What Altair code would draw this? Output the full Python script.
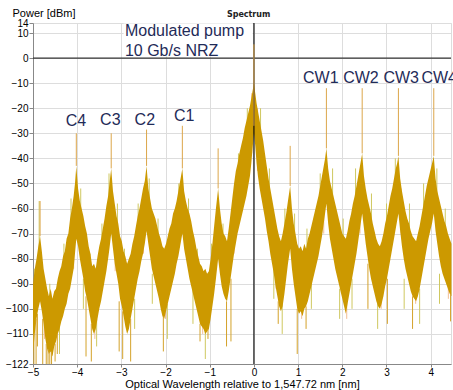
import altair as alt
import pandas as pd

# ---------------- data ----------------
x_ticks = [-5, -4, -3, -2, -1, 0, 1, 2, 3, 4]
y_ticks = [14, 10, 0, -10, -20, -30, -40, -50, -60, -70, -80, -90, -100, -110, -122]

env_x = [
    -5.00, -4.96, -4.92, -4.88, -4.84, -4.80, -4.76, -4.72, -4.68, -4.64, -4.60, -4.56, -4.52, -4.48, -4.44, -4.40, -4.36, -4.32, -4.28, -4.24, -4.20, -4.16, -4.12, -4.08, -4.05, -4.02,
    -3.98, -3.94, -3.90, -3.86, -3.82, -3.78, -3.74, -3.70, -3.66, -3.62, -3.58, -3.54, -3.50, -3.46, -3.42, -3.38, -3.34, -3.30, -3.27, -3.23,
    -3.19, -3.15, -3.11, -3.07, -3.03, -2.99, -2.95, -2.91, -2.87, -2.83, -2.79, -2.75, -2.71, -2.67, -2.63, -2.59, -2.55, -2.51, -2.47, -2.43,
    -2.39, -2.35, -2.31, -2.27, -2.23, -2.19, -2.15, -2.11, -2.07, -2.03, -1.99, -1.95, -1.91, -1.87, -1.83, -1.79, -1.75, -1.71, -1.67, -1.62,
    -1.58, -1.54, -1.50, -1.46, -1.42, -1.38, -1.34, -1.30, -1.26, -1.22, -1.18, -1.14, -1.10, -1.06, -1.02, -0.98, -0.94, -0.90, -0.86, -0.81,
    -0.77, -0.73, -0.69, -0.65, -0.61, -0.57, -0.53, -0.49, -0.45, -0.41, -0.37, -0.33, -0.29, -0.25, -0.21, -0.17, -0.13, -0.09, -0.06, -0.03, 0.00,
    0.03, 0.06, 0.09, 0.13, 0.17, 0.21, 0.25, 0.29, 0.33, 0.37, 0.41, 0.45, 0.49, 0.53, 0.57, 0.61, 0.65, 0.69, 0.73, 0.77, 0.82,
    0.86, 0.90, 0.94, 0.98, 1.02, 1.06, 1.10, 1.14, 1.18, 1.22, 1.26, 1.30, 1.34, 1.38, 1.42, 1.46, 1.50, 1.54, 1.58, 1.61, 1.64,
    1.68, 1.72, 1.76, 1.80, 1.84, 1.88, 1.92, 1.96, 2.00, 2.04, 2.08, 2.12, 2.16, 2.20, 2.24, 2.28, 2.32, 2.36, 2.40, 2.45,
    2.49, 2.53, 2.57, 2.61, 2.65, 2.69, 2.73, 2.77, 2.81, 2.85, 2.89, 2.93, 2.97, 3.01, 3.05, 3.09, 3.13, 3.17, 3.21, 3.24, 3.27,
    3.31, 3.35, 3.39, 3.43, 3.47, 3.51, 3.55, 3.59, 3.63, 3.67, 3.71, 3.75, 3.79, 3.83, 3.87, 3.91, 3.95, 3.99, 4.03, 4.07,
    4.11, 4.15, 4.19, 4.23, 4.27, 4.31, 4.35, 4.39, 4.43, 4.47,
]
env_top = [
    -90, -84, -80, -75, -71, -77, -84, -88, -92, -95, -92, -96, -93, -92, -88, -85, -83, -79, -77, -72, -70, -64, -60, -55, -50, -43,
    -52, -57, -60, -63, -67, -70, -75, -78, -83, -82, -84, -79, -75, -72, -68, -64, -59, -55, -50, -44,
    -53, -58, -63, -66, -71, -73, -77, -79, -82, -80, -78, -74, -71, -67, -63, -60, -56, -52, -49, -43,
    -52, -56, -60, -62, -64, -67, -70, -72, -75, -76, -74, -71, -68, -66, -62, -60, -57, -53, -49, -44,
    -53, -57, -60, -62, -65, -69, -72, -76, -79, -82, -83, -85, -84, -86, -85, -80, -74, -67, -60, -52,
    -60, -66, -70, -71, -73, -68, -62, -56, -50, -45, -42, -38, -35, -32, -28, -25, -22, -19, -16, -13, -10,
    -14, -18, -21, -25, -29, -33, -38, -43, -48, -52, -56, -60, -64, -68, -71, -73, -70, -66, -62, -57, -51,
    -60, -66, -70, -74, -76, -75, -77, -74, -76, -72, -70, -67, -64, -61, -58, -55, -51, -47, -43, -40, -36,
    -44, -49, -52, -55, -58, -61, -64, -67, -70, -71, -72, -69, -65, -62, -58, -55, -51, -47, -43, -38,
    -47, -52, -56, -59, -62, -66, -69, -72, -74, -75, -73, -70, -66, -63, -59, -55, -52, -48, -44, -42, -39,
    -48, -53, -57, -61, -64, -66, -69, -71, -72, -73, -70, -67, -63, -59, -55, -51, -48, -45, -42, -39,
    -48, -53, -56, -59, -62, -65, -67, -70, -72, -74,
]
env_bot = [
    -118, -110, -104, -100, -97, -101, -106, -112, -116, -118, -117, -119, -115, -113, -110, -108, -105, -103, -100, -98, -94, -92, -88, -84, -78, -72,
    -75, -80, -84, -88, -93, -96, -100, -104, -108, -110, -108, -104, -100, -97, -93, -89, -85, -80, -76, -70,
    -76, -82, -86, -90, -96, -99, -103, -107, -110, -108, -104, -100, -96, -92, -88, -85, -81, -78, -74, -69,
    -74, -79, -84, -87, -90, -93, -96, -100, -103, -104, -101, -98, -95, -92, -89, -86, -82, -79, -75, -70,
    -76, -80, -84, -88, -91, -94, -97, -100, -103, -106, -107, -108, -110, -109, -108, -104, -99, -94, -88, -80,
    -86, -91, -94, -96, -97, -93, -88, -83, -78, -74, -70, -67, -64, -61, -58, -55, -51, -47, -42, -36, -30,
    -35, -42, -47, -52, -56, -60, -64, -69, -73, -78, -82, -86, -91, -95, -99, -101, -99, -94, -88, -82, -76,
    -84, -90, -95, -100, -102, -101, -103, -100, -99, -97, -94, -91, -88, -85, -82, -79, -75, -71, -66, -62, -58,
    -66, -72, -76, -80, -84, -87, -90, -93, -96, -99, -102, -98, -94, -90, -86, -82, -78, -73, -68, -62,
    -68, -74, -79, -84, -88, -91, -94, -97, -99, -100, -98, -95, -91, -88, -84, -80, -76, -72, -68, -65, -62,
    -69, -75, -80, -84, -87, -90, -93, -95, -96, -97, -95, -92, -88, -84, -80, -76, -72, -69, -66, -62,
    -69, -74, -79, -83, -86, -88, -90, -92, -94, -95,
]

# narrow carrier / comb lines (upward spikes)
spike_x = [-4.84, -4.02, -3.23, -2.43, -1.62, -0.81, 0.00, 0.82, 1.64, 2.45, 3.27, 4.07]
spike_lo = [-71, -43, -44, -43, -44, -52, -27, -51, -36, -38, -39, -39]
spike_hi = [-57, -30, -30, -28.5, -27, -36, 5.5, -35, -12, -12, -12, -12]

# deep noise dips (downward spikes)
dip_x = [-4.98, -4.93, -4.90, -4.78, -4.70, -4.66, -4.62, -4.58, -4.50, -4.45, -3.80, -3.68,
         -3.05, -2.97, -2.79, -2.05, -1.22, -1.04, -0.62, -0.52, 0.55, 0.98, 1.18, 2.58, 3.02, 3.59, 4.45]
dip_hi = [-110, -104, -102, -104, -114, -116, -117, -117, -114, -110, -95, -106,
          -97, -101, -104, -103, -106, -108, -97, -88, -97, -100, -99, -82, -88, -95, -94]
dip_lo = [-122, -122, -115, -122, -122, -122, -122, -122, -121, -118, -119, -121,
          -117, -120, -121, -117, -113, -112, -115, -113, -106, -118, -108, -100, -106, -108, -105]

# light yellow-green noise traces at the band edges
yel_x = [-4.97, -4.86, -4.62, -4.40, -4.30, -4.14, -3.92, -3.86, -3.71, -3.56, -3.44, -3.28, -3.09, -2.93,
         -2.70, -2.62, -2.37, -2.30, -2.17, -1.96, -1.93, -1.70, -1.48, -1.38, -1.28, -1.10, -0.96, -0.70,
         -0.35, -0.15, 0.15, 0.35, 0.45, 0.64, 0.70, 0.92, 1.20, 1.30, 1.50, 1.78, 1.94, 2.02, 2.22, 2.30,
         2.66, 2.80, 3.00, 3.20, 3.40, 3.52, 3.75, 3.84, 4.14, 4.20, 4.33]
yel_lo = [-95, -80, -100, -118, -88, -70, -65, -100, -90, -115, -80, -60, -72, -90,
          -108, -75, -62, -98, -80, -112, -85, -65, -70, -106, -90, -120, -90, -80,
          -55, -40, -38, -60, -96, -110, -76, -80, -85, -100, -62, -62, -104, -80, -100, -60,
          -70, -108, -75, -55, -100, -75, -106, -66, -60, -98, -75]
yel_hi = [-84, -57, -90, -105, -74, -56, -52, -88, -78, -104, -66, -46, -58, -76,
          -96, -58, -48, -86, -64, -98, -70, -50, -56, -92, -76, -106, -74, -66,
          -38, -20, -20, -44, -84, -98, -60, -62, -68, -88, -46, -44, -92, -64, -88, -44,
          -54, -96, -58, -40, -88, -58, -92, -50, -44, -86, -60]

# light peach noise traces
pch_x = [-4.74, -4.08, -3.60, -3.14, -2.50, -2.00, -1.55, -1.16, -0.45, -0.05, 0.08, 0.50,
         1.08, 1.58, 2.10, 2.40, 2.88, 3.33, 3.66, 4.02, 4.40]
pch_lo = [-112, -84, -112, -85, -78, -104, -78, -110, -78, -38, -45, -92,
          -104, -70, -104, -70, -100, -70, -98, -66, -96]
pch_hi = [-96, -62, -98, -70, -60, -92, -58, -95, -56, -14, -20, -70,
          -90, -48, -88, -50, -86, -52, -84, -48, -82]

# annotations
lab_c = ["C4", "C3", "C2", "C1"]
lab_c_x = [-4.03, -3.25, -2.47, -1.58]
lab_c_y = [-27.1, -26.7, -26.7, -25.1]
lab_cw = ["CW1", "CW2", "CW3", "CW4"]
lab_cw_x = [1.11, 2.02, 2.93, 3.79]
lab_cw_y = [-9.9, -9.9, -9.9, -9.9]
lab_pump = ["Modulated pump", "10 Gb/s NRZ"]
lab_pump_x = [-2.92, -2.92]
lab_pump_y = [8.8, 0.8]
box_x1 = [-2.95]
box_x2 = [-0.03]
box_y1 = [13.8]
box_y2 = [0.6]
title_text = ["Spectrum"]
title_x = [-0.12]
title_y = [16.5]

# ---------------- chart ----------------
XSC = alt.Scale(domain=[-5, 4.46], nice=False, zero=False)
YSC = alt.Scale(domain=[-122, 14], nice=False, zero=False)
XAX = alt.Axis(values=x_ticks, title="Optical Wavelength relative to 1,547.72 nm [nm]",
               tickSize=3, labelPadding=0, titleY=23, titleBaseline="alphabetic",
               titleFontWeight="normal", labelFlush=False)
YAX = alt.Axis(values=y_ticks, title="Power [dBm]", titleAngle=0, titleAlign="left",
               titleBaseline="alphabetic", titleX=-21, titleY=-7, tickSize=4,
               titleFontWeight="normal", labelPadding=1, labelFlush=False)

band_df = pd.DataFrame({"x": env_x, "top": env_top, "bot": env_bot})
spike_df = pd.DataFrame({"x": spike_x, "lo": spike_lo, "hi": spike_hi})
dip_df = pd.DataFrame({"x": dip_x, "lo": dip_lo, "hi": dip_hi})
yel_df = pd.DataFrame({"x": yel_x, "lo": yel_lo, "hi": yel_hi})
pch_df = pd.DataFrame({"x": pch_x, "lo": pch_lo, "hi": pch_hi})
box_df = pd.DataFrame({"x1": box_x1, "x2": box_x2, "y1": box_y1, "y2": box_y2})
c_df = pd.DataFrame({"x": lab_c_x, "y": lab_c_y, "t": lab_c})
cw_df = pd.DataFrame({"x": lab_cw_x, "y": lab_cw_y, "t": lab_cw})
pump_df = pd.DataFrame({"x": lab_pump_x, "y": lab_pump_y, "t": lab_pump})
title_df = pd.DataFrame({"x": title_x, "y": title_y, "t": title_text})
zero_df = pd.DataFrame({"z": [0]})


def rules(df, color, width=1.0):
    return alt.Chart(df).mark_rule(color=color, strokeWidth=width).encode(
        x=alt.X("x:Q", scale=XSC, axis=XAX),
        y=alt.Y("hi:Q", scale=YSC, axis=YAX),
        y2="lo:Q",
    )


def texts(df, align, **kw):
    return alt.Chart(df).mark_text(align=align, baseline="alphabetic", **kw).encode(
        x=alt.X("x:Q", scale=XSC, axis=XAX),
        y=alt.Y("y:Q", scale=YSC, axis=YAX),
        text="t:N",
    )


band = alt.Chart(band_df).mark_area(color="#CC9900", opacity=1, interpolate="linear").encode(
    x=alt.X("x:Q", scale=XSC, axis=XAX),
    y=alt.Y("top:Q", scale=YSC, axis=YAX),
    y2="bot:Q",
)

box = alt.Chart(box_df).mark_rect(color="white").encode(
    x=alt.X("x1:Q", scale=XSC, axis=XAX), x2="x2:Q",
    y=alt.Y("y1:Q", scale=YSC, axis=YAX), y2="y2:Q",
)

zx = alt.Chart(zero_df).mark_rule(color="#111111", strokeWidth=1.2).encode(
    x=alt.X("z:Q", scale=XSC, axis=XAX))
zy = alt.Chart(zero_df).mark_rule(color="#333333", strokeWidth=1.2).encode(
    y=alt.Y("z:Q", scale=YSC, axis=YAX))

TXT = dict(font="Liberation Sans", fontSize=16, color="#1F2B58")

chart = alt.layer(
    box, rules(pch_df, "#F2BE94"), rules(yel_df, "#CFC860"), band,
    rules(dip_df, "#D4A22A"), zx, zy, rules(spike_df, "#DCA64A"),
    texts(c_df, "center", **TXT), texts(cw_df, "left", **TXT), texts(pump_df, "left", **TXT),
    texts(title_df, "center", font="DejaVu Sans", fontSize=8, fontWeight="bold", color="#222222"),
).properties(
    width=418, height=341,
    autosize=alt.AutoSizeParams(type="none"),
    padding={"left": 33, "top": 23, "right": 2, "bottom": 26},
).configure_view(stroke="#555555", strokeWidth=1.5).configure_axis(
    grid=True, gridColor="#CCCCCC", gridWidth=1,
    labelFont="DejaVu Sans", labelFontSize=8, labelColor="#222222",
    tickColor="#555555", domainColor="#555555",
    titleFont="DejaVu Sans", titleFontSize=8, titleColor="#222222",
).configure(background="white")

chart.save("out.html", embed_options={"renderer": "svg", "actions": False})
